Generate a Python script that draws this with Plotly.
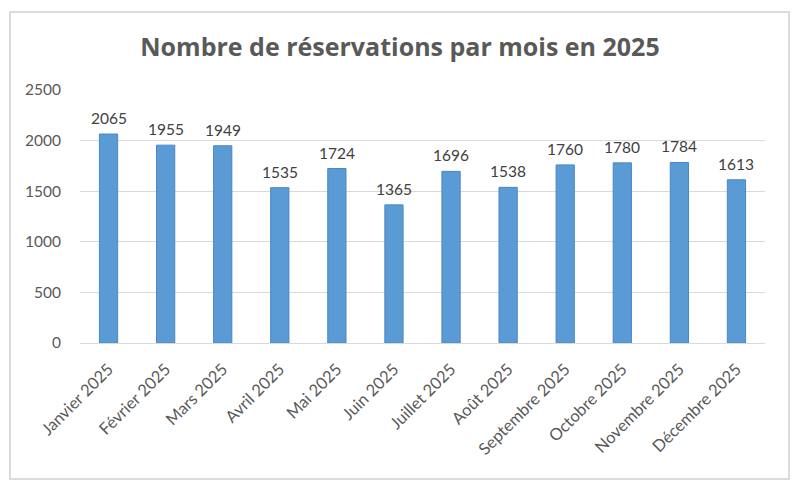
import plotly.graph_objects as go

months = ["Janvier 2025", "Février 2025", "Mars 2025", "Avril 2025", "Mai 2025", "Juin 2025",
          "Juillet 2025", "Août 2025", "Septembre 2025", "Octobre 2025", "Novembre 2025", "Décembre 2025"]
reservations = [2065, 1955, 1949, 1535, 1724, 1365, 1696, 1538, 1760, 1780, 1784, 1613]
y_ticks = [0, 500, 1000, 1500, 2000, 2500]

FONT = "Lato"
TXT = "#595959"

fig = go.Figure(go.Bar(
    x=months, y=reservations,
    marker=dict(color="#5B9BD5", line=dict(color="#4A88C4", width=1)),
    hoverinfo="x+y",
))

for m, v in zip(months, reservations):
    fig.add_annotation(x=m, y=v, text=str(v), showarrow=False, yanchor="bottom", yshift=5,
                       font=dict(family=FONT, size=15.5, color="#404040"))

fig.update_layout(
    width=800, height=490,
    margin=dict(l=80, r=35, t=90, b=147),
    paper_bgcolor="white", plot_bgcolor="white",
    bargap=0.68,
    showlegend=False,
    title=dict(text="<b>Nombre de réservations par mois en 2025</b>", x=0.5, xref="container",
               xanchor="center",
               y=1 - 47/490, yref="container", yanchor="middle",
               font=dict(family="Open Sans", size=25, color="#595959")),
    xaxis=dict(tickangle=-45, tickfont=dict(family=FONT, size=16.5, color=TXT),
               showline=True, linecolor="#D9D9D9", linewidth=1, ticks="", ticklabelstandoff=9),
    yaxis=dict(range=[0, 2500], tickvals=y_ticks, tickfont=dict(family=FONT, size=15.5, color=TXT),
               showgrid=True, gridcolor="#D9D9D9", gridwidth=1, zeroline=False,
               showline=False, ticks="", ticklabelstandoff=18),
    shapes=[dict(type="rect", xref="paper", yref="paper",
                 x0=-70/685, x1=(789-80)/685, y0=-(479-343)/253, y1=(343-12)/253,
                 line=dict(color="#D0D0D0", width=1.5), fillcolor="rgba(0,0,0,0)", layer="below")],
)

fig.write_html("out.html", config={"displayModeBar": False},
               post_script="document.body.style.margin='0';")
